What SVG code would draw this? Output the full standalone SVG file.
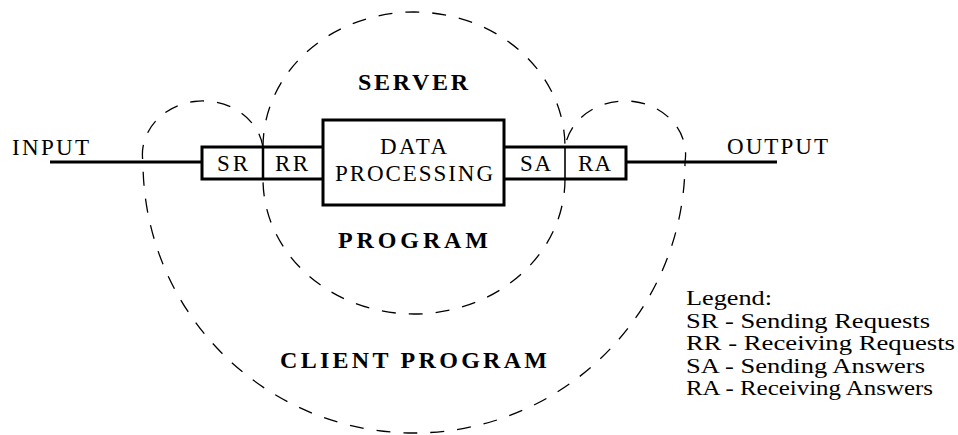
<svg xmlns="http://www.w3.org/2000/svg" width="958" height="435" viewBox="0 0 958 435">
<style>
  .t { font-family: "Liberation Serif", "Times New Roman", serif; font-size: 23px; fill: #000; }
  .lg { font-family: "Liberation Serif", "Times New Roman", serif; font-size: 20px; fill: #000; }
  .b { font-family: "Liberation Serif", "Times New Roman", serif; font-size: 24px; font-weight: bold; fill: #000; }
  .box { fill: #fff; stroke: #000; stroke-width: 3; }
  .thick { fill: none; stroke: #000; stroke-width: 3; }
  .dash { fill: none; stroke: #000; stroke-width: 1.3; stroke-dasharray: 14 13; }
</style>
<rect width="958" height="435" fill="#fff"/>
<g id="connectors">
  <line class="thick" x1="50" y1="162" x2="202" y2="162"/>
  <line class="thick" x1="626" y1="162" x2="777" y2="162"/>
  <path id="client-curve" class="dash" d="M263,147 A60,53 0 0 0 143,162 A271,271 0 0 0 685,162 A60,53 0 0 0 565,147"/>
  <path id="server-top" class="dash" d="M263,147 A151,135 0 0 1 565,147"/>
  <path id="server-bottom" class="dash" d="M565,179 A151,135 0 0 1 263,179"/>
</g>
<g id="input-label"><text class="t" x="12" y="155" textLength="77">INPUT</text></g>
<g id="output-label"><text class="t" x="727" y="154" textLength="101">OUTPUT</text></g>
<g id="SR">
  <path class="thick" d="M263,147 H202 V179 H263"/>
  <text class="t" x="217" y="171" font-size="24" textLength="31">SR</text>
</g>
<g id="RR">
  <path class="thick" d="M263,147 H323 M263,179 H323"/>
  <line x1="263" y1="146" x2="263" y2="180" stroke="#000" stroke-width="2.5"/>
  <text class="t" x="275" y="171" font-size="24" textLength="33">RR</text>
</g>
<g id="data-processing">
  <rect class="box" x="323" y="120" width="181" height="85"/>
  <text class="t" x="380" y="154" font-size="22" textLength="67">DATA</text>
  <text class="t" x="335" y="181" font-size="22" textLength="158">PROCESSING</text>
</g>
<g id="SA">
  <path class="thick" d="M565,147 H504 M504,179 H565"/>
  <text class="t" x="520" y="171" font-size="24" textLength="31">SA</text>
</g>
<g id="RA">
  <path class="thick" d="M565,147 H626 V179 H565"/>
  <line x1="565" y1="147" x2="565" y2="179" stroke="#000" stroke-width="1.6"/>
  <text class="t" x="578" y="171" font-size="24" textLength="33">RA</text>
</g>
<g id="server-label">
  <text class="b" x="358" y="90" textLength="110">SERVER</text>
  <text class="b" x="338" y="248" textLength="150">PROGRAM</text>
</g>
<g id="client-label">
  <text class="b" x="280" y="368" font-size="21" textLength="267">CLIENT PROGRAM</text>
</g>
<g id="legend">
  <text class="lg" x="686" y="305" textLength="86" lengthAdjust="spacingAndGlyphs">Legend:</text>
  <text class="lg" x="686" y="328" textLength="244" lengthAdjust="spacingAndGlyphs">SR - Sending Requests</text>
  <text class="lg" x="686" y="350" textLength="269" lengthAdjust="spacingAndGlyphs">RR - Receiving Requests</text>
  <text class="lg" x="686" y="373" textLength="239" lengthAdjust="spacingAndGlyphs">SA - Sending Answers</text>
  <text class="lg" x="686" y="395" textLength="247" lengthAdjust="spacingAndGlyphs">RA - Receiving Answers</text>
</g>
</svg>
